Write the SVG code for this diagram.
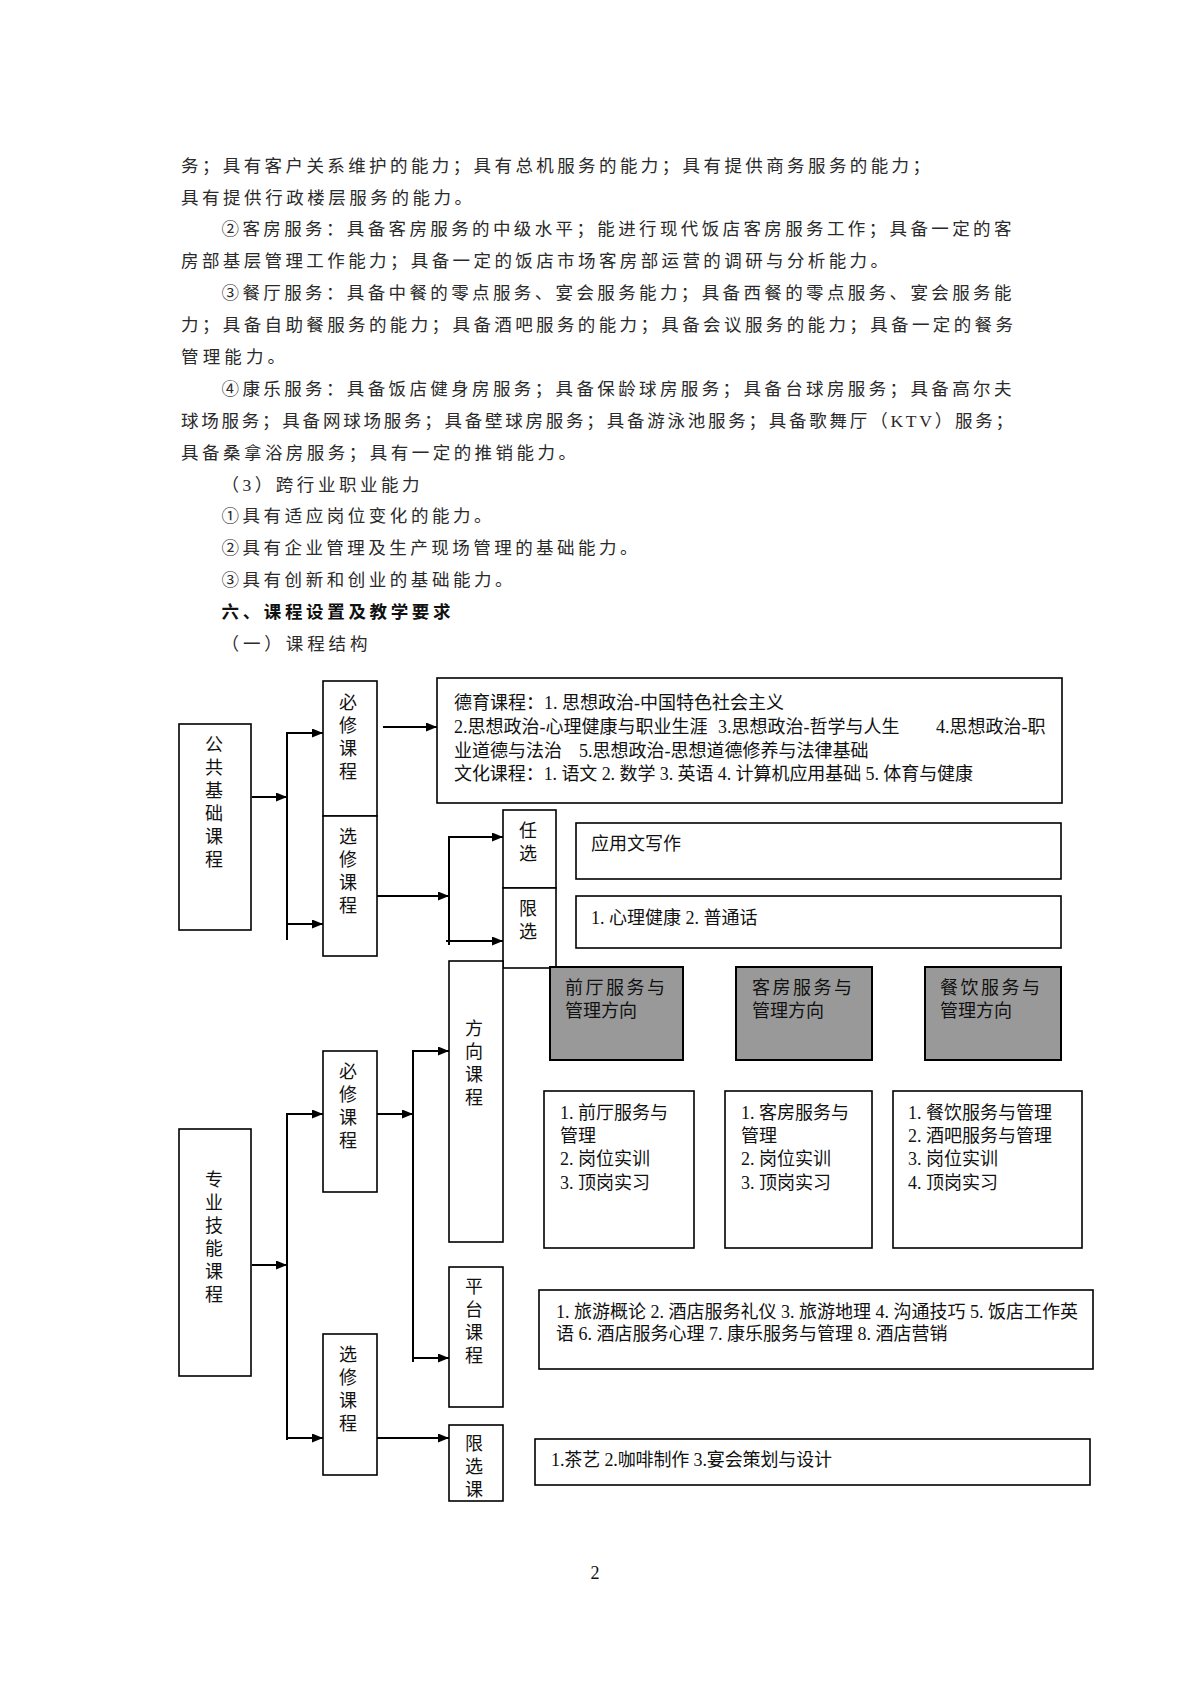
<svg xmlns="http://www.w3.org/2000/svg" width="1191" height="1684" viewBox="0 0 1191 1684">
<style>
  .body { font-family: "Liberation Serif", "Noto Sans CJK SC", serif; font-size: 17.5px; fill: #2a2a2a; }
  .bold { font-weight: bold; fill: #111; }
  .t { font-family: "Liberation Serif", "Noto Sans CJK SC", serif; font-size: 18px; fill: #111; }
  .v { font-family: "Noto Sans CJK SC", sans-serif; font-size: 18px; fill: #111; writing-mode: vertical-rl; letter-spacing: 5px; }
  .box { fill: #fff; stroke: #000; stroke-width: 1.6; }
  .gbox { fill: #999999; stroke: #000; stroke-width: 2; }
  .ln { stroke: #000; stroke-width: 2; fill: none; }
  .ar { stroke: #000; stroke-width: 2; fill: none; marker-end: url(#ah); }
</style>
<defs>
  <marker id="ah" markerUnits="userSpaceOnUse" markerWidth="12" markerHeight="10" refX="11" refY="4.5" orient="auto">
    <path d="M0,0 L11,4.5 L0,9 Z" fill="#000"/>
  </marker>
  <clipPath id="clipXXK"><rect x="450" y="1426" width="52" height="74"/></clipPath>
</defs>
<rect width="1191" height="1684" fill="#fff"/>

<g id="body-text">
  <text class="body" x="181" y="171.5" textLength="749" lengthAdjust="spacing">务；具有客户关系维护的能力；具有总机服务的能力；具有提供商务服务的能力；</text>
  <text class="body" x="181" y="203.5" textLength="291" lengthAdjust="spacing">具有提供行政楼层服务的能力。</text>
  <text class="body" x="221.5" y="235.3" textLength="790" lengthAdjust="spacing">②客房服务：具备客房服务的中级水平；能进行现代饭店客房服务工作；具备一定的客</text>
  <text class="body" x="181" y="267.2" textLength="707" lengthAdjust="spacing">房部基层管理工作能力；具备一定的饭店市场客房部运营的调研与分析能力。</text>
  <text class="body" x="221.5" y="299.1" textLength="790" lengthAdjust="spacing">③餐厅服务：具备中餐的零点服务、宴会服务能力；具备西餐的零点服务、宴会服务能</text>
  <text class="body" x="181" y="331" textLength="832" lengthAdjust="spacing">力；具备自助餐服务的能力；具备酒吧服务的能力；具备会议服务的能力；具备一定的餐务</text>
  <text class="body" x="181" y="362.9" textLength="104" lengthAdjust="spacing">管理能力。</text>
  <text class="body" x="221.5" y="394.8" textLength="790" lengthAdjust="spacing">④康乐服务：具备饭店健身房服务；具备保龄球房服务；具备台球房服务；具备高尔夫</text>
  <text class="body" x="181" y="426.7" textLength="832" lengthAdjust="spacing">球场服务；具备网球场服务；具备壁球房服务；具备游泳池服务；具备歌舞厅（KTV）服务；</text>
  <text class="body" x="181" y="458.6" textLength="395" lengthAdjust="spacing">具备桑拿浴房服务；具有一定的推销能力。</text>
  <text class="body" x="221.5" y="490.5" textLength="198" lengthAdjust="spacing">（3）跨行业职业能力</text>
  <text class="body" x="221.5" y="522.4" textLength="270" lengthAdjust="spacing">①具有适应岗位变化的能力。</text>
  <text class="body" x="221.5" y="554.3" textLength="416" lengthAdjust="spacing">②具有企业管理及生产现场管理的基础能力。</text>
  <text class="body" x="221.5" y="586.2" textLength="291" lengthAdjust="spacing">③具有创新和创业的基础能力。</text>
  <text class="body bold" x="221.5" y="618.1" textLength="229" lengthAdjust="spacing">六、课程设置及教学要求</text>
  <text class="body" x="221.5" y="650" textLength="146" lengthAdjust="spacing">（一）课程结构</text>
</g>

<g id="connectors">
  <path class="ar" d="M252,797 H287"/>
  <path class="ln" d="M287,733 V940"/>
  <path class="ar" d="M286,733 H323"/>
  <path class="ar" d="M286,924 H323"/>
  <path class="ar" d="M383,727 H437"/>
  <path class="ar" d="M377,896 H449"/>
  <path class="ln" d="M449,836 V945"/>
  <path class="ar" d="M448,837 H503"/>
  <path class="ar" d="M446,941 H503"/>

  <path class="ar" d="M252,1265 H287"/>
  <path class="ln" d="M287,1114 V1440"/>
  <path class="ar" d="M286,1114 H323"/>
  <path class="ar" d="M286,1438 H323"/>
  <path class="ar" d="M377,1114 H413"/>
  <path class="ln" d="M413,1051 V1362"/>
  <path class="ar" d="M412,1051 H449"/>
  <path class="ar" d="M412,1358 H449"/>
  <path class="ar" d="M377,1438 H449"/>
</g>

<g id="node-gonggong">
  <rect class="box" x="179" y="724" width="72" height="206"/>
  <text class="v" x="214" y="735">公共基础课程</text>
</g>

<g id="node-bixiu1">
  <rect class="box" x="323" y="681" width="54" height="135"/>
  <text class="v" x="348" y="693">必修课程</text>
</g>

<g id="node-xuanxiu1">
  <rect class="box" x="323" y="816" width="54" height="140"/>
  <text class="v" x="348" y="827">选修课程</text>
</g>

<g id="node-deyu">
  <rect class="box" x="437" y="678" width="625" height="125"/>
  <text class="t" x="454" y="709">德育课程：1. 思想政治-中国特色社会主义</text>
  <text class="t" x="454" y="733">2.思想政治-心理健康与职业生涯</text>
  <text class="t" x="718" y="733">3.思想政治-哲学与人生</text>
  <text class="t" x="936" y="733">4.思想政治-职</text>
  <text class="t" x="454" y="757">业道德与法治</text>
  <text class="t" x="579" y="757">5.思想政治-思想道德修养与法律基础</text>
  <text class="t" x="454" y="780" textLength="519" lengthAdjust="spacing">文化课程：1. 语文 2. 数学 3. 英语 4. 计算机应用基础 5. 体育与健康</text>
</g>

<g id="node-renxuan">
  <rect class="box" x="503" y="810" width="53" height="78"/>
  <text class="v" x="528" y="821">任选</text>
</g>

<g id="node-xianxuan1">
  <rect class="box" x="503" y="888" width="53" height="80"/>
  <text class="v" x="528" y="899">限选</text>
</g>

<g id="node-yingyong">
  <rect class="box" x="576" y="823" width="485" height="56"/>
  <text class="t" x="591" y="850">应用文写作</text>
</g>

<g id="node-xinli">
  <rect class="box" x="576" y="896" width="485" height="52"/>
  <text class="t" x="591" y="924">1. 心理健康  2. 普通话</text>
</g>

<g id="node-zhuanye">
  <rect class="box" x="179" y="1129" width="72" height="247"/>
  <text class="v" x="214" y="1170">专业技能课程</text>
</g>

<g id="node-bixiu2">
  <rect class="box" x="323" y="1051" width="54" height="141"/>
  <text class="v" x="348" y="1062">必修课程</text>
</g>

<g id="node-xuanxiu2">
  <rect class="box" x="323" y="1334" width="54" height="141"/>
  <text class="v" x="348" y="1345">选修课程</text>
</g>

<g id="node-fangxiang">
  <rect class="box" x="449" y="961" width="54" height="281"/>
  <text class="v" x="474" y="1019">方向课程</text>
</g>

<g id="node-pingtai">
  <rect class="box" x="449" y="1267" width="54" height="140"/>
  <text class="v" x="474" y="1277">平台课程</text>
</g>

<g id="node-xianxuanke">
  <rect class="box" x="449" y="1425" width="54" height="76"/>
  <text class="v" x="474" y="1434" clip-path="url(#clipXXK)">限选课</text>
</g>

<g id="node-qianting-dir">
  <rect class="gbox" x="550" y="967" width="133" height="93"/>
  <text class="t" x="565" y="994" letter-spacing="2.5">前厅服务与</text>
  <text class="t" x="565" y="1017">管理方向</text>
</g>

<g id="node-kefang-dir">
  <rect class="gbox" x="736" y="967" width="136" height="93"/>
  <text class="t" x="752" y="994" letter-spacing="2.5">客房服务与</text>
  <text class="t" x="752" y="1017">管理方向</text>
</g>

<g id="node-canyin-dir">
  <rect class="gbox" x="925" y="967" width="136" height="93"/>
  <text class="t" x="940" y="994" letter-spacing="2.5">餐饮服务与</text>
  <text class="t" x="940" y="1017">管理方向</text>
</g>

<g id="node-qianting-list">
  <rect class="box" x="544" y="1091" width="150" height="157"/>
  <text class="t" x="560" y="1119">1. 前厅服务与</text>
  <text class="t" x="560" y="1142">管理</text>
  <text class="t" x="560" y="1165">2. 岗位实训</text>
  <text class="t" x="560" y="1189">3. 顶岗实习</text>
</g>

<g id="node-kefang-list">
  <rect class="box" x="725" y="1091" width="147" height="157"/>
  <text class="t" x="741" y="1119">1. 客房服务与</text>
  <text class="t" x="741" y="1142">管理</text>
  <text class="t" x="741" y="1165">2. 岗位实训</text>
  <text class="t" x="741" y="1189">3. 顶岗实习</text>
</g>

<g id="node-canyin-list">
  <rect class="box" x="893" y="1091" width="189" height="157"/>
  <text class="t" x="908" y="1119">1. 餐饮服务与管理</text>
  <text class="t" x="908" y="1142">2. 酒吧服务与管理</text>
  <text class="t" x="908" y="1165">3. 岗位实训</text>
  <text class="t" x="908" y="1189">4. 顶岗实习</text>
</g>

<g id="node-pingtai-list">
  <rect class="box" x="539" y="1290" width="554" height="79"/>
  <text class="t" x="556" y="1318">1. 旅游概论 2. 酒店服务礼仪 3. 旅游地理 4. 沟通技巧 5. 饭店工作英</text>
  <text class="t" x="556" y="1340">语 6. 酒店服务心理 7. 康乐服务与管理 8. 酒店营销</text>
</g>

<g id="node-xianxuan-list">
  <rect class="box" x="535" y="1439" width="555" height="46"/>
  <text class="t" x="551" y="1466" textLength="281" lengthAdjust="spacing">1.茶艺 2.咖啡制作 3.宴会策划与设计</text>
</g>

<g id="page-number">
  <text x="595" y="1579" font-family="Liberation Serif, serif" font-size="18" fill="#111" text-anchor="middle">2</text>
</g>
</svg>
